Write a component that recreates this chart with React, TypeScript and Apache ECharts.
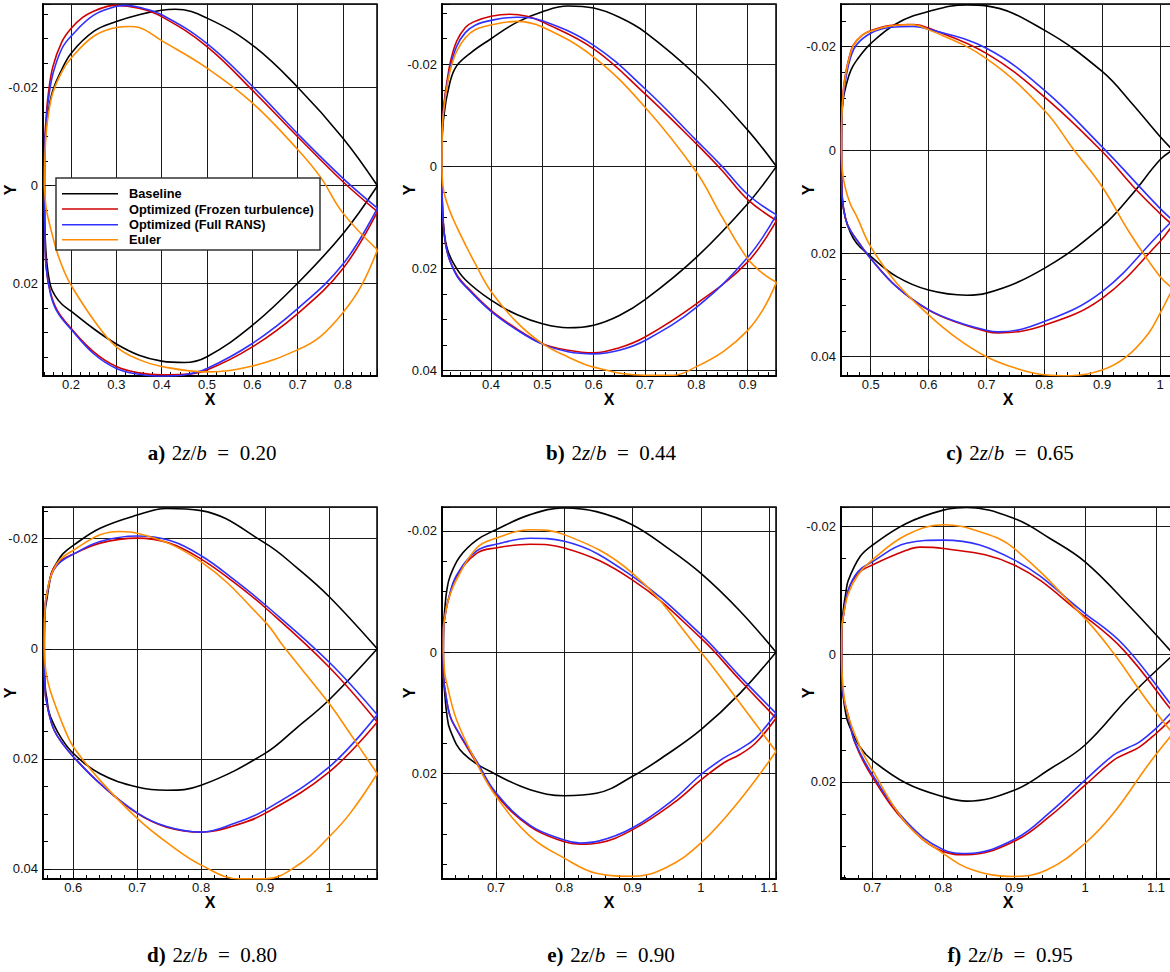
import React, { useEffect, useRef } from "react";
import * as echarts from "echarts";

// ---------- legend / series names ----------
const seriesNames = ["Baseline", "Optimized (Frozen turbulence)", "Optimized (Full RANS)", "Euler"];
const seriesColors = ["#000000", "#d00000", "#3030ff", "#ff8c00"];
const panelLetters = ["a)", "b)", "c)", "d)", "e)", "f)"];
const spanValues = ["0.20", "0.44", "0.65", "0.80", "0.90", "0.95"];

// ---------- panel a: 2z/b = 0.20 ----------
const aBaseUp = [[0.1413,0],[0.1418,-0.006],[0.1435,-0.0098],[0.147,-0.0135],[0.153,-0.0168],[0.16,-0.0195],[0.175,-0.0228],[0.2,-0.027],[0.25,-0.0315],[0.3,-0.0335],[0.35,-0.0349],[0.4,-0.0358],[0.43,-0.036],[0.5,-0.0342],[0.6,-0.0287],[0.7,-0.0201],[0.8,-0.0097],[0.876,0]];
const aBaseLo = [[0.1413,0],[0.1416,0.005],[0.143,0.0105],[0.147,0.016],[0.155,0.0205],[0.165,0.0225],[0.18,0.0242],[0.2,0.0256],[0.25,0.0292],[0.3,0.0323],[0.35,0.0346],[0.4,0.0358],[0.45,0.0361],[0.5,0.0349],[0.6,0.0285],[0.7,0.0199],[0.8,0.0098],[0.876,0]];
const aRedUp = [[0.1413,0],[0.1417,-0.006],[0.143,-0.0107],[0.146,-0.015],[0.15,-0.0188],[0.16,-0.0243],[0.18,-0.0294],[0.2,-0.0321],[0.225,-0.0343],[0.25,-0.0356],[0.28,-0.0366],[0.3,-0.0368],[0.35,-0.0362],[0.4,-0.0345],[0.5,-0.0284],[0.6,-0.0195],[0.7,-0.01],[0.8,-0.0008],[0.876,0.0053]];
const aRedLo = [[0.1413,0],[0.1416,0.005],[0.1425,0.0097],[0.145,0.0165],[0.155,0.0219],[0.17,0.0255],[0.2,0.0291],[0.25,0.0339],[0.3,0.0369],[0.35,0.0382],[0.4,0.0386],[0.45,0.0385],[0.5,0.0376],[0.6,0.0329],[0.7,0.0261],[0.8,0.0169],[0.876,0.0053]];
const aBlueUp = [[0.1413,0],[0.1417,-0.0055],[0.143,-0.01],[0.146,-0.014],[0.15,-0.0175],[0.16,-0.0228],[0.18,-0.028],[0.2,-0.0305],[0.25,-0.0348],[0.3,-0.0366],[0.32,-0.0368],[0.35,-0.0364],[0.4,-0.0349],[0.5,-0.029],[0.6,-0.0203],[0.7,-0.0106],[0.8,-0.0015],[0.876,0.0046]];
const aBlueLo = [[0.1413,0],[0.1416,0.005],[0.1425,0.0097],[0.145,0.0165],[0.155,0.0222],[0.17,0.0258],[0.2,0.0293],[0.25,0.0343],[0.3,0.0373],[0.35,0.0385],[0.4,0.0389],[0.45,0.0386],[0.5,0.0373],[0.6,0.0322],[0.7,0.0251],[0.8,0.016],[0.876,0.0046]];
const aEulerUp = [[0.1413,0],[0.1425,-0.006],[0.145,-0.0105],[0.15,-0.0145],[0.16,-0.019],[0.18,-0.0233],[0.2,-0.026],[0.25,-0.0305],[0.3,-0.0323],[0.33,-0.0325],[0.35,-0.0323],[0.4,-0.0296],[0.5,-0.024],[0.6,-0.0169],[0.7,-0.0074],[0.75,-0.0018],[0.8,0.0056],[0.876,0.0131]];
const aEulerLo = [[0.1413,0],[0.145,0.0045],[0.15,0.0068],[0.16,0.0105],[0.17,0.0138],[0.185,0.0175],[0.2,0.0203],[0.25,0.0274],[0.3,0.0329],[0.35,0.0355],[0.4,0.0369],[0.5,0.038],[0.6,0.0368],[0.7,0.0335],[0.75,0.0308],[0.8,0.0259],[0.84,0.0205],[0.876,0.0131]];

// ---------- panel b: 2z/b = 0.44 ----------
const bBaseUp = [[0.3045,0],[0.3048,-0.005],[0.306,-0.0077],[0.309,-0.0105],[0.315,-0.0142],[0.33,-0.0192],[0.36,-0.0222],[0.4,-0.025],[0.45,-0.0282],[0.5,-0.0303],[0.55,-0.0314],[0.6,-0.031],[0.65,-0.0292],[0.7,-0.0263],[0.8,-0.0178],[0.9,-0.0071],[0.956,0]];
const bBaseLo = [[0.3045,0],[0.3048,0.005],[0.306,0.009],[0.309,0.0132],[0.315,0.0162],[0.327,0.019],[0.35,0.0222],[0.4,0.0262],[0.45,0.029],[0.5,0.0308],[0.55,0.0316],[0.6,0.0311],[0.65,0.0292],[0.7,0.0261],[0.8,0.0178],[0.9,0.0073],[0.956,0]];
const bRedUp = [[0.3045,0],[0.3048,-0.006],[0.306,-0.0095],[0.309,-0.0129],[0.314,-0.0165],[0.321,-0.0205],[0.333,-0.0245],[0.35,-0.0272],[0.366,-0.0283],[0.4,-0.0294],[0.437,-0.0298],[0.47,-0.0294],[0.5,-0.0283],[0.6,-0.023],[0.7,-0.0142],[0.8,-0.0044],[0.85,0.0008],[0.9,0.0065],[0.956,0.0106]];
const bRedLo = [[0.3045,0],[0.3047,0.005],[0.3055,0.0085],[0.307,0.0112],[0.312,0.0155],[0.32,0.0185],[0.335,0.0215],[0.353,0.0236],[0.4,0.0282],[0.45,0.0318],[0.5,0.0347],[0.55,0.036],[0.6,0.0365],[0.65,0.0355],[0.7,0.0334],[0.8,0.0269],[0.9,0.0187],[0.956,0.0106]];
const bBlueUp = [[0.3045,0],[0.3048,-0.0055],[0.306,-0.009],[0.309,-0.0122],[0.314,-0.0158],[0.321,-0.0195],[0.333,-0.0235],[0.35,-0.0262],[0.37,-0.0277],[0.4,-0.0286],[0.45,-0.0292],[0.5,-0.0285],[0.6,-0.0237],[0.7,-0.0152],[0.8,-0.0051],[0.85,0],[0.9,0.0055],[0.956,0.0095]];
const bBlueLo = [[0.3045,0],[0.3047,0.005],[0.3055,0.0085],[0.307,0.0112],[0.312,0.0155],[0.32,0.0185],[0.335,0.0217],[0.353,0.0238],[0.4,0.0284],[0.45,0.032],[0.5,0.0348],[0.55,0.0363],[0.6,0.0367],[0.65,0.036],[0.7,0.0341],[0.8,0.0276],[0.9,0.0178],[0.956,0.0095]];
const bEulerUp = [[0.3045,0],[0.3048,-0.0055],[0.306,-0.009],[0.309,-0.012],[0.314,-0.0155],[0.321,-0.019],[0.333,-0.0225],[0.35,-0.0252],[0.37,-0.0268],[0.4,-0.0277],[0.45,-0.0284],[0.5,-0.0273],[0.6,-0.0214],[0.7,-0.0116],[0.8,0.0011],[0.85,0.0099],[0.9,0.0181],[0.93,0.021],[0.956,0.0227]];
const bEulerLo = [[0.3045,0],[0.306,0.0035],[0.31,0.0058],[0.32,0.0088],[0.333,0.0118],[0.35,0.0153],[0.37,0.0192],[0.4,0.0245],[0.45,0.0305],[0.5,0.0347],[0.55,0.0373],[0.6,0.0393],[0.7,0.0409],[0.755,0.0409],[0.8,0.0392],[0.853,0.0362],[0.9,0.0321],[0.93,0.028],[0.956,0.0227]];

// ---------- panel c: 2z/b = 0.65 ----------
const cBaseUp = [[0.4495,0],[0.45,-0.006],[0.452,-0.0095],[0.4585,-0.0129],[0.466,-0.0155],[0.476,-0.0174],[0.5,-0.0206],[0.545,-0.0245],[0.6,-0.0268],[0.666,-0.0281],[0.7,-0.0279],[0.8,-0.0232],[0.9,-0.0152],[0.95,-0.0092],[1.0,-0.0026],[1.022,0]];
const cBaseLo = [[0.4495,0],[0.4498,0.005],[0.451,0.0095],[0.4556,0.0129],[0.465,0.016],[0.476,0.0181],[0.5,0.0206],[0.545,0.0245],[0.6,0.0271],[0.666,0.0281],[0.7,0.0277],[0.8,0.0229],[0.9,0.0148],[0.95,0.0088],[1.0,0.0019],[1.022,0]];
const cRedUp = [[0.4495,0],[0.45,-0.006],[0.4527,-0.0116],[0.457,-0.015],[0.463,-0.018],[0.47,-0.0203],[0.485,-0.0222],[0.5,-0.0231],[0.533,-0.0241],[0.574,-0.0243],[0.6,-0.0236],[0.7,-0.0187],[0.8,-0.0103],[0.9,0.0003],[0.954,0.0071],[1.0,0.0123],[1.022,0.0145]];
const cRedLo = [[0.4495,0],[0.4498,0.005],[0.4505,0.0085],[0.4527,0.011],[0.46,0.0145],[0.476,0.0174],[0.5,0.021],[0.545,0.0265],[0.6,0.031],[0.65,0.0334],[0.7,0.0351],[0.72,0.0354],[0.8,0.0339],[0.9,0.0287],[1.0,0.0177],[1.022,0.0145]];
const cBlueUp = [[0.4495,0],[0.45,-0.0055],[0.453,-0.0107],[0.458,-0.0145],[0.465,-0.0178],[0.475,-0.0203],[0.5,-0.0226],[0.533,-0.0237],[0.574,-0.0239],[0.6,-0.0234],[0.7,-0.0197],[0.8,-0.0116],[0.9,-0.0006],[1.0,0.0113],[1.022,0.0136]];
const cBlueLo = [[0.4495,0],[0.4498,0.005],[0.4505,0.0085],[0.4527,0.011],[0.46,0.0145],[0.476,0.0174],[0.5,0.021],[0.545,0.0265],[0.6,0.0309],[0.65,0.0333],[0.7,0.0349],[0.72,0.0352],[0.8,0.0332],[0.9,0.0274],[1.0,0.0161],[1.022,0.0136]];
const cEulerUp = [[0.4495,0],[0.45,-0.006],[0.4527,-0.0112],[0.457,-0.0148],[0.463,-0.0178],[0.47,-0.0202],[0.485,-0.0222],[0.5,-0.023],[0.533,-0.024],[0.565,-0.0243],[0.6,-0.0233],[0.7,-0.0177],[0.8,-0.0077],[0.85,-0.0002],[0.9,0.0071],[0.948,0.0161],[1.0,0.0245],[1.022,0.0268]];
const cEulerLo = [[0.4495,0],[0.451,0.004],[0.4556,0.0071],[0.465,0.0105],[0.476,0.0129],[0.5,0.0187],[0.545,0.0258],[0.6,0.0319],[0.65,0.0365],[0.7,0.04],[0.75,0.0422],[0.8,0.0435],[0.845,0.0437],[0.9,0.0426],[0.942,0.04],[0.98,0.0355],[1.0,0.0316],[1.022,0.0268]];

// ---------- panel d: 2z/b = 0.80 ----------
const dBaseUp = [[0.5546,0],[0.555,-0.005],[0.5565,-0.0075],[0.5583,-0.0088],[0.562,-0.0115],[0.566,-0.0137],[0.575,-0.0158],[0.584,-0.0173],[0.6,-0.0188],[0.642,-0.0219],[0.7,-0.0243],[0.746,-0.0255],[0.8,-0.0251],[0.9,-0.0192],[0.95,-0.0147],[1.0,-0.0095],[1.0755,0]];
const dBaseLo = [[0.5546,0],[0.555,0.005],[0.5565,0.0075],[0.5583,0.0088],[0.562,0.0115],[0.569,0.0136],[0.58,0.016],[0.6,0.019],[0.642,0.0227],[0.7,0.0251],[0.746,0.0257],[0.8,0.0248],[0.9,0.019],[0.95,0.0143],[1.0,0.0093],[1.0755,0]];
const dRedUp = [[0.5546,0],[0.555,-0.005],[0.5565,-0.0085],[0.5583,-0.0098],[0.562,-0.012],[0.5687,-0.0146],[0.58,-0.016],[0.6,-0.0172],[0.642,-0.0192],[0.7,-0.0201],[0.75,-0.0192],[0.8,-0.0163],[0.85,-0.0122],[0.9,-0.0075],[1.0,0.0033],[1.0755,0.0133]];
const dRedLo = [[0.5546,0],[0.555,0.005],[0.5565,0.0085],[0.5583,0.0097],[0.562,0.0118],[0.57,0.0148],[0.585,0.0175],[0.6,0.0196],[0.642,0.0245],[0.7,0.0299],[0.746,0.0324],[0.8,0.0333],[0.85,0.0322],[0.9,0.0299],[1.0,0.0224],[1.0755,0.0133]];
const dBlueUp = [[0.5546,0],[0.555,-0.005],[0.5565,-0.0083],[0.5583,-0.0096],[0.562,-0.0118],[0.5687,-0.0142],[0.58,-0.0158],[0.6,-0.0172],[0.642,-0.0195],[0.7,-0.0205],[0.75,-0.0197],[0.8,-0.0169],[0.85,-0.0127],[0.9,-0.008],[1.0,0.0024],[1.0755,0.012]];
const dBlueLo = [[0.5546,0],[0.555,0.005],[0.5565,0.0085],[0.5583,0.0097],[0.562,0.0118],[0.57,0.0148],[0.585,0.0175],[0.6,0.0196],[0.642,0.0245],[0.7,0.0298],[0.746,0.0323],[0.8,0.0333],[0.85,0.0318],[0.9,0.0293],[1.0,0.0215],[1.0755,0.012]];
const dEulerUp = [[0.5546,0],[0.555,-0.005],[0.5565,-0.0085],[0.5583,-0.0097],[0.562,-0.012],[0.5687,-0.0143],[0.58,-0.0163],[0.6,-0.0179],[0.642,-0.0207],[0.673,-0.0213],[0.7,-0.021],[0.8,-0.0158],[0.9,-0.0049],[0.929,-0.0004],[1.0,0.0099],[1.033,0.0154],[1.0755,0.0227]];
const dEulerLo = [[0.5546,0],[0.5555,0.0025],[0.558,0.0048],[0.563,0.0072],[0.572,0.0103],[0.5843,0.014],[0.6,0.0178],[0.642,0.0239],[0.7,0.0308],[0.75,0.0355],[0.8,0.0393],[0.861,0.0418],[0.9,0.0418],[0.955,0.039],[1.0,0.0342],[1.033,0.0299],[1.0755,0.0227]];

// ---------- panel e: 2z/b = 0.90 ----------
const eBaseUp = [[0.6229,0],[0.6232,-0.004],[0.6254,-0.0075],[0.628,-0.0102],[0.6327,-0.0125],[0.6473,-0.0158],[0.6717,-0.0185],[0.7,-0.0202],[0.75,-0.0227],[0.8,-0.0238],[0.847,-0.0232],[0.9,-0.021],[0.95,-0.0173],[1.0,-0.013],[1.057,-0.0068],[1.1098,0]];
const eBaseLo = [[0.6229,0],[0.6232,0.004],[0.6254,0.0073],[0.628,0.0102],[0.6327,0.0128],[0.6522,0.0167],[0.7,0.0202],[0.75,0.0227],[0.8,0.0237],[0.847,0.0233],[0.9,0.0205],[0.95,0.0169],[1.0,0.0128],[1.057,0.0068],[1.1098,0]];
const eRedUp = [[0.6229,0],[0.6232,-0.004],[0.6254,-0.0059],[0.63,-0.0085],[0.6424,-0.0125],[0.6717,-0.0163],[0.7,-0.0172],[0.75,-0.0178],[0.8,-0.0172],[0.9,-0.0119],[1.0,-0.0023],[1.057,0.0046],[1.1098,0.0109]];
const eRedLo = [[0.6229,0],[0.6232,0.004],[0.6254,0.0062],[0.6327,0.0105],[0.6424,0.0128],[0.6717,0.0183],[0.7,0.0235],[0.75,0.0288],[0.8,0.0313],[0.823,0.0317],[0.85,0.0315],[0.9,0.0293],[0.96,0.0249],[1.0,0.0211],[1.033,0.0183],[1.057,0.0169],[1.08,0.015],[1.1098,0.0109]];
const eBlueUp = [[0.6229,0],[0.6232,-0.004],[0.6254,-0.006],[0.63,-0.0086],[0.6424,-0.0127],[0.6717,-0.0167],[0.7,-0.0178],[0.75,-0.0188],[0.8,-0.0183],[0.9,-0.0125],[1.0,-0.0029],[1.057,0.004],[1.1098,0.0101]];
const eBlueLo = [[0.6229,0],[0.6232,0.004],[0.6254,0.0062],[0.6327,0.0105],[0.6424,0.0127],[0.6717,0.018],[0.7,0.0232],[0.75,0.0286],[0.8,0.031],[0.823,0.0315],[0.85,0.0312],[0.9,0.029],[0.96,0.0243],[1.0,0.0202],[1.033,0.0175],[1.057,0.016],[1.08,0.0142],[1.1098,0.0101]];
const eEulerUp = [[0.6229,0],[0.6232,-0.004],[0.6254,-0.0059],[0.63,-0.0085],[0.6424,-0.012],[0.6717,-0.0172],[0.7,-0.0188],[0.75,-0.0202],[0.8,-0.0194],[0.9,-0.013],[1.0,0],[1.057,0.0084],[1.1098,0.0164]];
const eEulerLo = [[0.6229,0],[0.625,0.0035],[0.6278,0.0051],[0.6424,0.0112],[0.6717,0.0183],[0.7,0.0238],[0.75,0.0304],[0.8,0.034],[0.847,0.0365],[0.9,0.037],[0.95,0.0355],[1.0,0.0315],[1.057,0.0244],[1.1098,0.0164]];

// ---------- panel f: 2z/b = 0.95 ----------
const fBaseUp = [[0.6568,0],[0.657,-0.004],[0.6591,-0.0069],[0.6625,-0.0095],[0.6662,-0.0116],[0.6826,-0.0153],[0.7,-0.0171],[0.748,-0.0205],[0.8,-0.0226],[0.833,-0.023],[0.9,-0.0213],[0.95,-0.0182],[1.0,-0.0145],[1.063,-0.0075],[1.125,0]];
const fBaseLo = [[0.6568,0],[0.657,0.004],[0.6591,0.0066],[0.6625,0.0092],[0.6662,0.0108],[0.6826,0.0145],[0.7,0.0166],[0.748,0.0202],[0.8,0.0223],[0.833,0.023],[0.9,0.0213],[0.95,0.018],[1.0,0.0142],[1.063,0.0066],[1.125,0]];
const fRedUp = [[0.6568,0],[0.657,-0.004],[0.6591,-0.0059],[0.6662,-0.0101],[0.6803,-0.0127],[0.7,-0.014],[0.748,-0.0163],[0.767,-0.0168],[0.8,-0.0166],[0.9,-0.014],[1.0,-0.0059],[1.054,-0.0007],[1.12,0.0085],[1.126,0.0095]];
const fRedLo = [[0.6568,0],[0.657,0.004],[0.6591,0.0066],[0.6662,0.0097],[0.6756,0.0139],[0.7,0.0192],[0.748,0.0265],[0.8,0.0309],[0.833,0.0314],[0.9,0.0293],[0.95,0.0254],[1.0,0.0205],[1.04,0.0166],[1.059,0.0155],[1.077,0.0145],[1.1,0.0124],[1.12,0.0103],[1.126,0.0095]];
const fBlueUp = [[0.6568,0],[0.657,-0.004],[0.6591,-0.006],[0.6662,-0.0101],[0.6803,-0.013],[0.7,-0.0145],[0.748,-0.0174],[0.8,-0.0179],[0.9,-0.0148],[1.0,-0.0064],[1.054,-0.0015],[1.12,0.0077],[1.126,0.0087]];
const fBlueLo = [[0.6568,0],[0.657,0.004],[0.6591,0.0066],[0.6662,0.0097],[0.6756,0.0137],[0.7,0.0188],[0.748,0.0262],[0.8,0.0306],[0.833,0.0312],[0.9,0.029],[0.95,0.0248],[1.0,0.0197],[1.04,0.0158],[1.059,0.0147],[1.077,0.0137],[1.1,0.0116],[1.12,0.0093],[1.126,0.0087]];
const fEulerUp = [[0.6568,0],[0.657,-0.004],[0.6591,-0.0059],[0.6662,-0.0095],[0.6803,-0.0125],[0.7,-0.0148],[0.748,-0.0187],[0.8,-0.0203],[0.852,-0.0192],[0.9,-0.0166],[1.0,-0.0056],[1.04,-0.0002],[1.087,0.0072],[1.12,0.0119],[1.124,0.0124]];
const fEulerLo = [[0.6568,0],[0.658,0.004],[0.6638,0.0087],[0.6826,0.0145],[0.7,0.0181],[0.748,0.0265],[0.8,0.0312],[0.842,0.0338],[0.9,0.0348],[0.946,0.0338],[1.0,0.0296],[1.04,0.0249],[1.087,0.0176],[1.12,0.0129],[1.124,0.0124]];

// ---------- axis ranges per panel ----------
const xRanges = [[0.1382, 0.875], [0.3045, 0.9551], [0.4487, 1.0259], [0.5526, 1.0751], [0.621, 1.1098], [0.6559, 1.1268]];
const yRanges = [[-0.03708, 0.03884], [-0.0318, 0.04104], [-0.02826, 0.04374], [-0.02576, 0.04182], [-0.02396, 0.03745], [-0.02309, 0.0352]];

const panelCurves = [
  [[aBaseUp, aBaseLo], [aRedUp, aRedLo], [aBlueUp, aBlueLo], [aEulerUp, aEulerLo]],
  [[bBaseUp, bBaseLo], [bRedUp, bRedLo], [bBlueUp, bBlueLo], [bEulerUp, bEulerLo]],
  [[cBaseUp, cBaseLo], [cRedUp, cRedLo], [cBlueUp, cBlueLo], [cEulerUp, cEulerLo]],
  [[dBaseUp, dBaseLo], [dRedUp, dRedLo], [dBlueUp, dBlueLo], [dEulerUp, dEulerLo]],
  [[eBaseUp, eBaseLo], [eRedUp, eRedLo], [eBlueUp, eBlueLo], [eEulerUp, eEulerLo]],
  [[fBaseUp, fBaseLo], [fRedUp, fRedLo], [fBlueUp, fBlueLo], [fEulerUp, fEulerLo]],
];

// ---------- layout (pixels) ----------
const gridBoxes = [
  { left: 43, top: 4 }, { left: 442, top: 4 }, { left: 841, top: 4 },
  { left: 43, top: 507 }, { left: 442, top: 507 }, { left: 841, top: 507 },
];
const GW = 334;
const GH = 372;
const SANS = '"Liberation Sans", Arial, Helvetica, sans-serif';
const SERIF = '"Liberation Serif", "DejaVu Serif", serif';

const fmt = (v: number) => String(Math.round(v * 10000) / 10000);

export default function App() {
  const ref = useRef<HTMLDivElement>(null);
  useEffect(() => {
    if (!ref.current) return;
    const chart = echarts.init(ref.current, undefined, { renderer: "svg" });
    const grid: any[] = [];
    const xAxis: any[] = [];
    const yAxis: any[] = [];
    const series: any[] = [];
    const graphic: any[] = [];

    gridBoxes.forEach((g, i) => {
      grid.push({
        left: g.left, top: g.top, width: GW, height: GH,
        show: true, borderColor: "#000", borderWidth: 1.5, backgroundColor: "transparent",
        containLabel: false, outerBoundsMode: "none",
      });
      xAxis.push({
        type: "value", gridIndex: i, min: xRanges[i][0], max: xRanges[i][1],
        minInterval: 0.1, maxInterval: 0.1,
        name: "X", nameLocation: "middle", nameGap: 15, nameMoveOverlap: false,
        nameTextStyle: { fontFamily: SANS, fontWeight: "bold", fontSize: 16, color: "#000" },
        axisLine: { show: true, onZero: false, lineStyle: { color: "#000", width: 2 } },
        axisTick: { show: true, inside: true, length: 7, lineStyle: { color: "#000", width: 1 } },
        minorTick: { show: true, splitNumber: 5, length: 4, lineStyle: { color: "#000", width: 1 } },
        splitLine: { show: true, lineStyle: { color: "#1a1a1a", width: 1 } },
        minorSplitLine: { show: false },
        axisLabel: {
          show: true, margin: 2, fontFamily: SANS, fontSize: 13, color: "#111",
          showMinLabel: false, showMaxLabel: false, formatter: fmt,
        },
      });
      yAxis.push({
        type: "value", gridIndex: i, min: yRanges[i][0], max: yRanges[i][1], inverse: true,
        minInterval: 0.02, maxInterval: 0.02,
        name: "Y", nameLocation: "middle", nameGap: 25, nameMoveOverlap: false,
        nameTextStyle: { fontFamily: SANS, fontWeight: "bold", fontSize: 16, color: "#000" },
        axisLine: { show: true, onZero: false, lineStyle: { color: "#000", width: 2 } },
        axisTick: { show: true, inside: true, length: 8, lineStyle: { color: "#000", width: 1 } },
        minorTick: { show: true, splitNumber: 4, length: 5, lineStyle: { color: "#000", width: 1 } },
        splitLine: { show: true, lineStyle: { color: "#1a1a1a", width: 1 } },
        minorSplitLine: { show: false },
        axisLabel: {
          show: true, margin: 5, fontFamily: SANS, fontSize: 13, color: "#111",
          showMinLabel: false, showMaxLabel: false, formatter: fmt,
        },
      });
      panelCurves[i].forEach((pair, k) => {
        pair.forEach((surface) => {
          series.push({
            type: "line", name: seriesNames[k], xAxisIndex: i, yAxisIndex: i,
            data: surface,
            showSymbol: false, symbol: "none", smooth: 0.4, clip: true,
            lineStyle: { color: seriesColors[k], width: 1.6 },
            itemStyle: { color: seriesColors[k] },
            z: 3 + k, silent: true,
          });
        });
      });
      graphic.push({
        type: "text", x: g.left + GW / 2 + 2, y: i < 3 ? 453 : 955, z: 100,
        style: {
          text: `{b|${panelLetters[i]}}  {n|2}{i|z}{n|/}{i|b}{n|  =  ${spanValues[i]}}`,
          align: "center", verticalAlign: "middle",
          rich: {
            b: { fontFamily: SERIF, fontWeight: "bold", fontSize: 21, fill: "#000" },
            n: { fontFamily: SERIF, fontSize: 21, fill: "#000" },
            i: { fontFamily: SERIF, fontStyle: "italic", fontSize: 21, fill: "#000" },
          },
        },
      });
    });

    // legend box in panel a
    const legendRows = [193.7, 209, 224.7, 239.7];
    const legendChildren: any[] = [
      { type: "rect", shape: { x: 56, y: 178, width: 264, height: 72 }, style: { fill: "#fff", stroke: "#333", lineWidth: 1.5 }, z: 100 },
    ];
    seriesNames.forEach((nm, k) => {
      legendChildren.push({ type: "line", shape: { x1: 62, y1: legendRows[k], x2: 118, y2: legendRows[k] }, style: { stroke: seriesColors[k], lineWidth: 1.6 }, z: 101 });
      legendChildren.push({ type: "text", x: 129, y: legendRows[k], z: 101, style: { text: nm, fontFamily: SANS, fontWeight: "bold", fontSize: 12.8, fill: "#000", verticalAlign: "middle", align: "left" } });
    });
    graphic.push({ type: "group", children: legendChildren });

    chart.setOption({
      animation: false,
      backgroundColor: "#fff",
      grid, xAxis, yAxis, series, graphic,
      tooltip: { show: false },
    });
    return () => chart.dispose();
  }, []);
  return <div ref={ref} style={{ position: "absolute", left: 0, top: 0, width: 1170, height: 972 }} />;
}
